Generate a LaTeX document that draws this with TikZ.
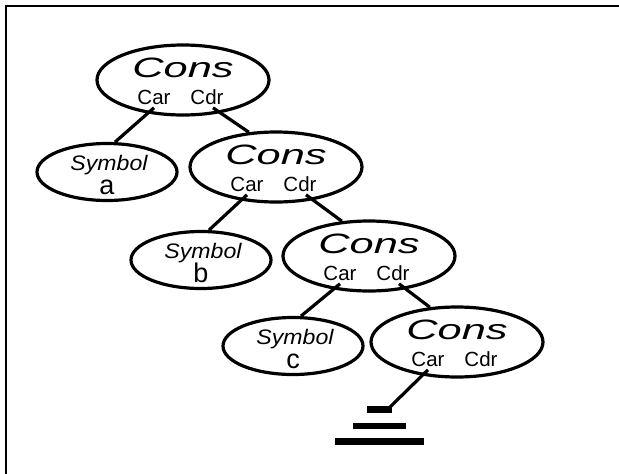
\documentclass[tikz,border=0pt]{standalone}
\usepackage{fontspec}
\setmainfont{Liberation Sans}
\usetikzlibrary{shapes.geometric}
\begin{document}
\begin{tikzpicture}[x=1pt, y=-1pt, line width=3.2pt,
  cell/.style={draw, ellipse, inner sep=0pt, minimum width=172pt, minimum height=70pt},
  symcell/.style={draw, ellipse, inner sep=0pt, minimum width=140pt, minimum height=57pt},
  headtext/.style={inner sep=0pt, anchor=base, font=\fontsize{28}{30}\selectfont\itshape},
  fieldtext/.style={inner sep=0pt, anchor=base, font=\fontsize{20.5}{22}\selectfont},
  symtext/.style={inner sep=0pt, anchor=base, font=\fontsize{21}{23}\selectfont\itshape},
  lettertext/.style={inner sep=0pt, anchor=base, font=\fontsize{27}{29}\selectfont},
  bar/.style={line width=6.5pt, line cap=butt}]
\useasboundingbox (0,0) rectangle (619,474);

% frame along the top and left edges
\draw[line width=2.5pt] (6,474) -- (6,6) -- (619,6);

% cons cells
\foreach \n/\x/\y in {c1/183/80, c2/276/167, c3/369/256, c4/457/342} {
  \node[cell] (\n) at (\x,\y) {};
  \node[headtext] (\n-t) at (\x,\y-3) {\scalebox{1.55}[1]{Cons}};
  \node[fieldtext] (\n-car) at (\x-29,\y+24) {Car};
  \node[fieldtext] (\n-cdr) at (\x+24,\y+24) {Cdr};
}

% symbol cells
\foreach \n/\x/\y/\l in {sa/107/172/a, sb/201/260/b, sc/293/346/c} {
  \node[symcell] (\n) at (\x,\y) {};
  \node[symtext] (\n-t) at (\x+2,\y-2) {\scalebox{1.1}[1]{Symbol}};
  \node[lettertext] (\n-l) at (\x,\y+22) {\l};
}

% car / cdr pointers
\draw ([yshift=-2pt]c1-car.south) -- (sa.75);
\draw ([xshift=6pt,yshift=-2pt]c1-cdr.south) -- (c2.128);
\draw ([yshift=-2pt]c2-car.south) -- (sb.75);
\draw ([xshift=6pt,yshift=-2pt]c2-cdr.south) -- (c3.128);
\draw ([yshift=-2pt]c3-car.south) -- (sc.75);
\draw ([xshift=6pt,yshift=-2pt]c3-cdr.south) -- (c4.128);

% nil terminator
\coordinate (gnd) at (390,407);
\draw ([yshift=-2pt]c4-car.south) -- (gnd);
\draw[bar] (367,409.5) -- (392,409.5);
\draw[bar] (353,426) -- (406,426);
\draw[bar] (335,441.5) -- (424,441.5);
\end{tikzpicture}
\end{document}
